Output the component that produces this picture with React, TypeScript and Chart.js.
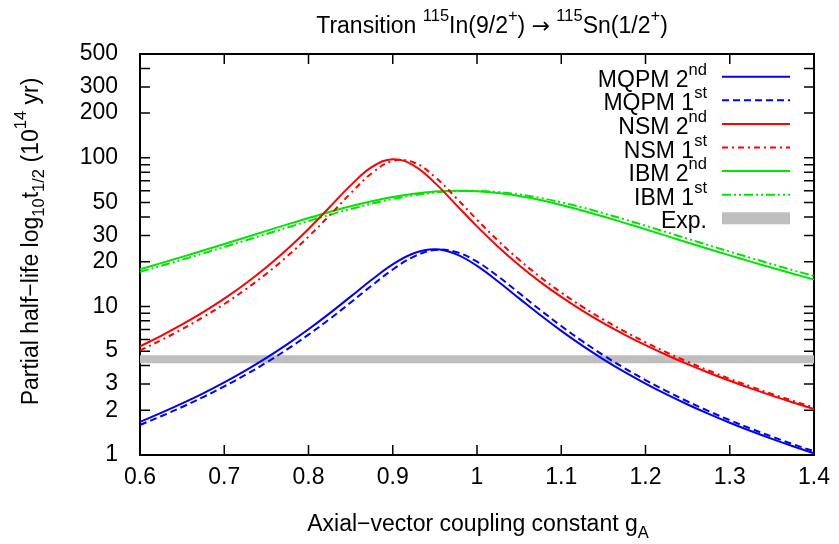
import { useEffect, useRef } from 'react';
import { Chart, registerables } from 'chart.js';

Chart.register(...registerables);

// ---------- data ----------
const gA = [
  0.6, 0.625, 0.65, 0.675, 0.7, 0.725, 0.75, 0.775, 0.8, 0.825, 0.85, 0.875, 0.9, 0.925, 0.95, 0.975,
  1.0, 1.025, 1.05, 1.075, 1.1, 1.125, 1.15, 1.175, 1.2, 1.225, 1.25, 1.275, 1.3, 1.325, 1.35, 1.375, 1.4,
];
const mqpm2nd = [
  1.672, 1.919, 2.223, 2.601, 3.081, 3.697, 4.502, 5.572, 7.015, 8.978, 11.64, 15.11, 19.18, 22.79, 24.21, 22.49,
  18.74, 14.71, 11.33, 8.745, 6.843, 5.445, 4.408, 3.625, 3.025, 2.558, 2.188, 1.891, 1.649, 1.45, 1.284, 1.145, 1.027,
];
const mqpm1st = [
  1.593, 1.823, 2.105, 2.455, 2.896, 3.459, 4.191, 5.158, 6.456, 8.22, 10.62, 13.81, 17.72, 21.64, 23.97, 23.26,
  20.0, 15.93, 12.3, 9.474, 7.376, 5.837, 4.698, 3.845, 3.194, 2.689, 2.291, 1.974, 1.716, 1.505, 1.33, 1.183, 1.059,
];
const nsm2nd = [
  5.387, 6.339, 7.56, 9.157, 11.29, 14.22, 18.35, 24.34, 33.24, 46.53, 65.27, 86.51, 98.0, 88.76, 67.84, 48.47,
  34.57, 25.23, 18.95, 14.64, 11.59, 9.38, 7.729, 6.47, 5.489, 4.713, 4.088, 3.579, 3.158, 2.806, 2.51, 2.258, 2.042,
];
const nsm1st = [
  5.058, 5.928, 7.036, 8.475, 10.38, 12.98, 16.61, 21.82, 29.5, 41.0, 57.74, 78.8, 95.28, 93.12, 74.52, 53.94,
  38.31, 27.71, 20.61, 15.78, 12.39, 9.956, 8.155, 6.792, 5.737, 4.907, 4.242, 3.702, 3.258, 2.889, 2.579, 2.315, 2.09,
];
const ibm2nd = [
  17.8, 19.56, 21.55, 23.79, 26.3, 29.11, 32.24, 35.66, 39.35, 43.25, 47.24, 51.07, 54.59, 57.41, 59.32, 60.09,
  59.62, 57.97, 55.34, 51.97, 48.17, 44.21, 40.27, 36.52, 33.03, 29.83, 26.95, 24.36, 22.06, 20.02, 18.21, 16.6, 15.17,
];
const ibm1st = [
  17.1, 18.76, 20.63, 22.74, 25.11, 27.76, 30.71, 33.98, 37.52, 41.31, 45.23, 49.14, 52.83, 55.99, 58.38, 59.74,
  59.91, 58.87, 56.75, 53.76, 50.2, 46.34, 42.41, 38.57, 34.94, 31.6, 28.56, 25.82, 23.38, 21.2, 19.26, 17.54, 16.02,
];
const expBand = [4.15, 4.7]; // lower, upper
const xRange = [0.6, 1.4];
const yRange = [1, 500];
const xTicks = [0.6, 0.7, 0.8, 0.9, 1.0, 1.1, 1.2, 1.3, 1.4];
const xTickLabels = ['0.6', '0.7', '0.8', '0.9', '1', '1.1', '1.2', '1.3', '1.4'];
const yTicks = [1, 2, 3, 5, 10, 20, 30, 50, 100, 200, 300, 500];
const yTickLabels = ['1', '2', '3', '5', '10', '20', '30', '50', '100', '200', '300', '500'];
const yMinorTicks = [
  1, 2, 3, 4, 5, 6, 7, 8, 9, 10, 20, 30, 40, 50, 60, 70, 80, 90, 100, 200, 300, 400, 500,
];

type Seg = [string, number]; // 0 normal, 1 superscript, 2 subscript, 3 symbol
const seriesNames: Seg[][] = [
  [['MQPM 2', 0], ['nd', 1]],
  [['MQPM 1', 0], ['st', 1]],
  [['NSM 2', 0], ['nd', 1]],
  [['NSM 1', 0], ['st', 1]],
  [['IBM 2', 0], ['nd', 1]],
  [['IBM 1', 0], ['st', 1]],
];
const expName: Seg[] = [['Exp.', 0]];
const titleText: Seg[] = [
  ['Transition ', 0], ['115', 1], ['In(9/2', 0], ['+', 1], [') ', 0], ['\u2192', 3], [' ', 0], ['115', 1],
  ['Sn(1/2', 0], ['+', 1], [')', 0],
];
const xTitle: Seg[] = [['Axial\u2212vector coupling constant g', 0], ['A', 2]];
const yTitle: Seg[] = [
  ['Partial half\u2212life log', 0], ['10', 2], ['t', 0], ['1/2', 2], [' (10', 0], ['14', 1], [' yr)', 0],
];

// ---------- styles ----------
const FONT = "'Liberation Sans', Arial, sans-serif";
const SYMFONT = "'DejaVu Sans', sans-serif";
const FS = 23;
const seriesColors = ['#0000ff', '#0000ff', '#ff0000', '#ff0000', '#00e600', '#00e600'];
const seriesDash: number[][] = [[], [7, 4], [], [6, 4, 2, 4], [], [9, 3, 2, 3, 2, 3]];
const bandColor = '#bebebe';

function segFont(size: number, mode: number) {
  if (mode === 3) return `${size * 0.95}px ${SYMFONT}`;
  return `${mode ? size * 0.72 : size}px ${FONT}`;
}
function richWidth(ctx: CanvasRenderingContext2D, segs: Seg[], size: number) {
  let w = 0;
  for (const [t, m] of segs) {
    ctx.font = segFont(size, m);
    w += ctx.measureText(t).width;
  }
  return w;
}
function drawRich(ctx: CanvasRenderingContext2D, segs: Seg[], x: number, y: number, size: number, align: string) {
  const w = richWidth(ctx, segs, size);
  let cx = align === 'center' ? x - w / 2 : align === 'right' ? x - w : x;
  ctx.textAlign = 'left';
  ctx.textBaseline = 'alphabetic';
  ctx.fillStyle = '#000';
  for (const [t, m] of segs) {
    ctx.font = segFont(size, m);
    const dy = m === 1 ? -size * 0.52 : m === 2 ? size * 0.3 : 0;
    ctx.fillText(t, cx, y + dy);
    cx += ctx.measureText(t).width;
  }
}

const framePlugin = {
  id: 'frameTicks',
  beforeDatasetsDraw(chart: any) {
    const { ctx, chartArea: a, scales } = chart;
    ctx.save();
    ctx.strokeStyle = '#000';
    ctx.lineWidth = 1.5;
    ctx.beginPath();
    for (const v of xTicks) {
      const px = scales.x.getPixelForValue(v);
      ctx.moveTo(px, a.bottom);
      ctx.lineTo(px, a.bottom - 10);
      ctx.moveTo(px, a.top);
      ctx.lineTo(px, a.top + 10);
    }
    for (const v of yMinorTicks) {
      const py = scales.y.getPixelForValue(v);
      ctx.moveTo(a.left, py);
      ctx.lineTo(a.left + 10, py);
      ctx.moveTo(a.right, py);
      ctx.lineTo(a.right - 10, py);
    }
    ctx.stroke();
    ctx.lineWidth = 2;
    ctx.strokeRect(a.left, a.top, a.right - a.left, a.bottom - a.top);
    ctx.restore();
  },
};

const textPlugin = {
  id: 'richText',
  afterDraw(chart: any) {
    const { ctx, chartArea: a } = chart;
    ctx.save();
    // title
    drawRich(ctx, titleText, 492, 33, FS, 'center');
    // x title
    drawRich(ctx, xTitle, (a.left + a.right) / 2 + 1, 531, FS, 'center');
    // y title
    ctx.save();
    ctx.translate(37.5, 241.5);
    ctx.rotate(-Math.PI / 2);
    drawRich(ctx, yTitle, 0, 0, FS, 'center');
    ctx.restore();
    // legend
    const textRight = 707;
    const x0 = 722;
    const x1 = 790;
    const rowH = 23.6;
    const y0 = 76.7;
    seriesNames.forEach((segs, i) => {
      const y = y0 + i * rowH;
      drawRich(ctx, segs, textRight, y + 10, FS, 'right');
      ctx.save();
      ctx.strokeStyle = seriesColors[i];
      ctx.lineWidth = 2;
      ctx.setLineDash(seriesDash[i]);
      ctx.beginPath();
      ctx.moveTo(x0, y);
      ctx.lineTo(x1, y);
      ctx.stroke();
      ctx.restore();
    });
    const ye = y0 + 6 * rowH;
    drawRich(ctx, expName, textRight, ye + 10, FS, 'right');
    ctx.fillStyle = bandColor;
    ctx.fillRect(x0, ye - 6, x1 - x0, 12);
    ctx.restore();
  },
};

export default function App() {
  const ref = useRef<HTMLCanvasElement>(null);
  useEffect(() => {
    const canvas = ref.current;
    if (!canvas) return;
    const mk = (ys: number[]) => gA.map((x, i) => ({ x, y: ys[i] }));
    const seriesData = [mqpm2nd, mqpm1st, nsm2nd, nsm1st, ibm2nd, ibm1st];
    const curves = seriesData.map((ys, i) => ({
      label: seriesNames[i].map((s) => s[0]).join(''),
      data: mk(ys),
      borderColor: seriesColors[i],
      backgroundColor: seriesColors[i],
      borderWidth: 2,
      borderDash: seriesDash[i],
      pointRadius: 0,
      tension: 0.4,
      fill: false,
      order: i,
    }));
    const band = [
      {
        label: 'Exp.',
        data: [{ x: xRange[0], y: expBand[1] }, { x: xRange[1], y: expBand[1] }],
        borderWidth: 0,
        borderColor: bandColor,
        backgroundColor: bandColor,
        pointRadius: 0,
        fill: '+1',
        order: 20,
      },
      {
        label: 'ExpLow',
        data: [{ x: xRange[0], y: expBand[0] }, { x: xRange[1], y: expBand[0] }],
        borderWidth: 0,
        borderColor: bandColor,
        backgroundColor: bandColor,
        pointRadius: 0,
        fill: false,
        order: 21,
      },
    ];
    const chart = new Chart(canvas, {
      type: 'line',
      data: { datasets: [...curves, ...band] as any },
      options: {
        responsive: false,
        animation: false,
        devicePixelRatio: 1,
        layout: { padding: { top: 54, right: 21, left: 0, bottom: 0 } },
        plugins: {
          legend: { display: false },
          title: { display: false },
          tooltip: { enabled: false },
        },
        scales: {
          x: {
            type: 'linear',
            min: xRange[0],
            max: xRange[1],
            grid: { display: false, drawTicks: false },
            border: { display: false },
            afterBuildTicks: (s: any) => {
              s.ticks = xTicks.map((v) => ({ value: v }));
            },
            afterFit: (s: any) => {
              s.height = 89;
            },
            ticks: {
              autoSkip: false,
              maxRotation: 0,
              padding: 9,
              color: '#000',
              font: { family: FONT, size: FS },
              callback: (_v: any, i: number) => xTickLabels[i],
            },
          },
          y: {
            type: 'logarithmic',
            min: yRange[0],
            max: yRange[1],
            grid: { display: false, drawTicks: false },
            border: { display: false },
            afterBuildTicks: (s: any) => {
              s.ticks = yTicks.map((v) => ({ value: v }));
            },
            afterFit: (s: any) => {
              s.width = 140;
            },
            ticks: {
              autoSkip: false,
              padding: 22,
              color: '#000',
              font: { family: FONT, size: FS },
              callback: (_v: any, i: number) => yTickLabels[i],
            },
          },
        },
      } as any,
      plugins: [framePlugin, textPlugin],
    });
    return () => chart.destroy();
  }, []);
  return (
    <div style={{ position: 'fixed', left: 0, top: 0, width: 839, height: 544, background: '#fff' }}>
      <canvas ref={ref} width={839} height={544} style={{ width: 839, height: 544, display: 'block' }} />
    </div>
  );
}
